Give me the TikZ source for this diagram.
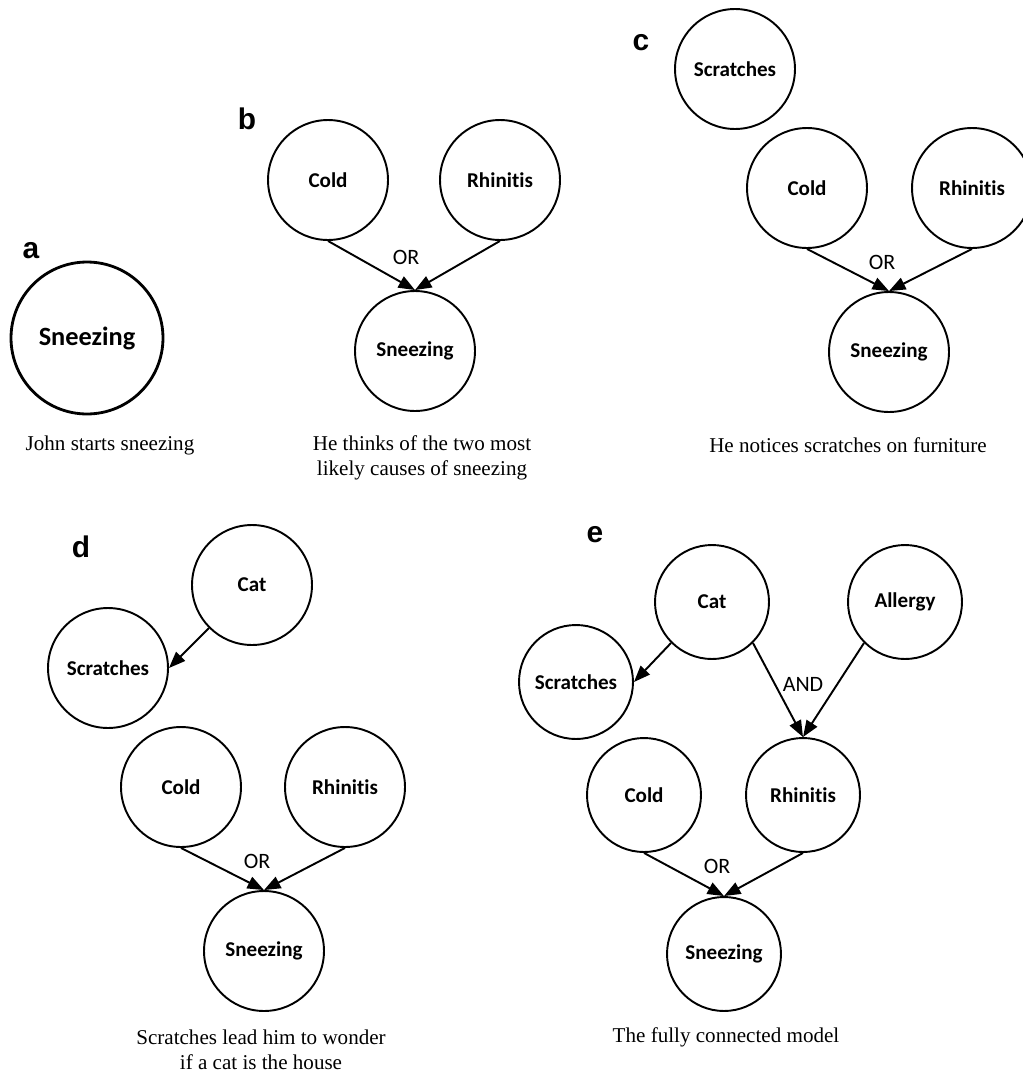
\documentclass[tikz,border=0pt]{standalone}
\usepackage{fontspec}
\setmainfont{Liberation Serif}
\newfontfamily\nodefont[Ligatures=NoCommon]{Carlito}
\newfontfamily\panelfont{Liberation Sans}
\usetikzlibrary{arrows.meta}

\begin{document}
\begin{tikzpicture}[x=0.02cm,y=-0.02cm,
  var/.style={circle, draw, line width=1.1pt, minimum size=2.4cm, inner sep=0pt,
    font=\nodefont\bfseries\fontsize{12}{14}\selectfont},
  varsm/.style={var, minimum size=2.28cm},
  edge/.style={line width=1.1pt, -{Triangle[length=3.3mm,width=2.5mm]}},
  gate/.style={font=\nodefont\fontsize{12.5}{14}\selectfont},
  caption/.style={font=\fontsize{12}{14.2}\selectfont, align=center},
  panel/.style={font=\panelfont\bfseries\fontsize{17}{20}\selectfont}]

\useasboundingbox (0,0) rectangle (1023,1072);

% (a) a single observed variable
\node[panel] (la) at (31,251) {a};
\node[var, minimum size=3.04cm, line width=1.6pt,
  font=\nodefont\bfseries\fontsize{15}{18}\selectfont] (aS) at (87,338) {Sneezing};
\node[caption] (ca) at (110,445) {John starts sneezing};

% (b) two candidate causes
\node[panel] (lb) at (247,119) {b};
\node[var] (bC) at (328,180) {Cold};
\node[var] (bR) at (500,180) {Rhinitis};
\node[var] (bS) at (415,351) {Sneezing};
\node[gate] (bOR) at (406,257) {OR};
\draw[edge] (bC.south) -- (bS.north);
\draw[edge] (bR.south) -- (bS.north);
\node[caption] (cb) at (422,457.5) {He thinks of the two most\\likely causes of sneezing};

% (c) a new observation
\node[panel] (lc) at (641,43) {c};
\node[var] (cSc) at (735,69) {Scratches};
\node[var] (cC) at (807,188) {Cold};
\node[var] (cR) at (972,188) {Rhinitis};
\node[var] (cS) at (889,352) {Sneezing};
\node[gate] (cOR) at (882,262) {OR};
\draw[edge] (cC.south) -- (cS.north);
\draw[edge] (cR.south) -- (cS.north);
\node[caption] (cc) at (848,445) {He notices scratches on furniture};

% (d) a cause for the scratches
\node[panel] (ld) at (81,547) {d};
\node[var] (dCat) at (252,585) {Cat};
\node[var] (dSc) at (108,668) {Scratches};
\node[var] (dC) at (181,787) {Cold};
\node[var] (dR) at (345,787) {Rhinitis};
\node[var] (dS) at (264,951) {Sneezing};
\node[gate] (dOR) at (257,861) {OR};
\draw[edge] (dCat.south west) -- (dSc.east);
\draw[edge] (dC.south) -- (dS.north);
\draw[edge] (dR.south) -- (dS.north);
\node[caption] (cd) at (261,1049.5) {Scratches lead him to wonder\\if a cat is the house};

% (e) the complete network
\node[panel] (le) at (595,535) {e};
\node[varsm] (eCat) at (712,602) {Cat};
\node[varsm] (eA) at (905,602) {Allergy};
\node[varsm] (eSc) at (576,682) {Scratches};
\node[varsm] (eC) at (644,795) {Cold};
\node[varsm] (eR) at (803,795) {Rhinitis};
\node[varsm] (eS) at (724,954) {Sneezing};
\node[gate] (eAND) at (803,684) {AND};
\node[gate] (eOR) at (717,866) {OR};
\draw[edge] (eCat.south west) -- (eSc.east);
\draw[edge] (eCat.south east) -- (eR.north);
\draw[edge] (eA.south west) -- (eR.north);
\draw[edge] (eC.south) -- (eS.north);
\draw[edge] (eR.south) -- (eS.north);
\node[caption] (ce) at (726,1037) {The fully connected model};
\end{tikzpicture}
\end{document}
